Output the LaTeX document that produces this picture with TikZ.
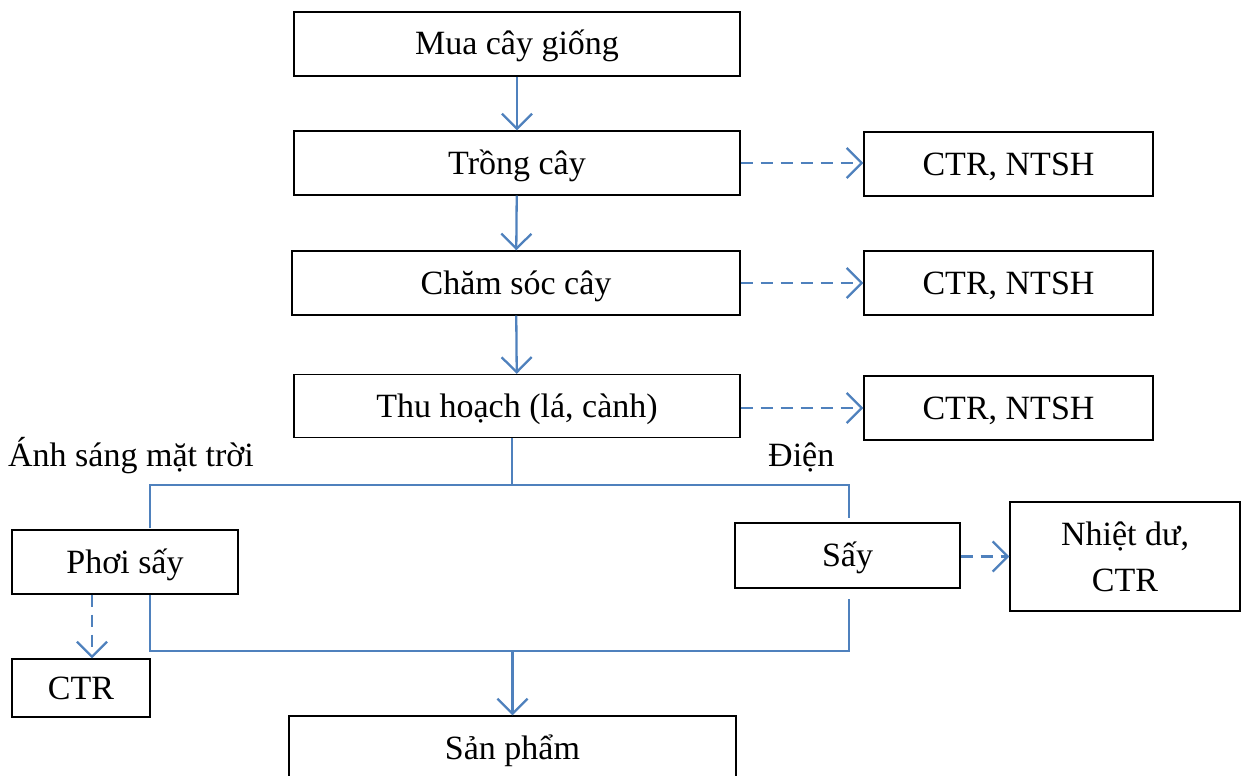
\documentclass[tikz,border=0pt]{standalone}
\usepackage{fontspec}
\setmainfont{Liberation Serif}
\usepackage{tikz}
\usetikzlibrary{arrows.meta,positioning,calc}

\definecolor{flowblue}{HTML}{4F81BD}

\tikzset{
  oneline/.style={text height=26pt,text depth=4pt},
  stepbox/.style={draw=black,line width=1.4pt,minimum width=446pt,minimum height=64pt,inner sep=0pt,oneline},
  sidebox/.style={draw=black,line width=1.4pt,minimum height=64pt,inner sep=0pt,align=center},
  flow/.style={draw=flowblue,line width=2.3pt},
  flowarr/.style={flow,-{Straight Barb[length=15pt,width=30pt,line width=2.3pt]}},
  wastearr/.style={flowarr,dash pattern=on 12pt off 8pt}
}

\begin{document}
\begin{tikzpicture}[x=1pt,y=-1pt,font=\fontsize{34}{40}\selectfont]
  \useasboundingbox (0,0) rectangle (1248,776);
  % main chain
  \node[stepbox] (mua) at (517,44) {Mua cây giống};
  \node[stepbox] (trong) at (517,163) {Trồng cây};
  \node[stepbox,minimum width=448pt] (cham) at (516,283) {Chăm sóc cây};
  \node[stepbox,minimum height=63pt] (thu) at (517,406) {Thu hoạch (lá, cành)};
  \node[stepbox,minimum width=447pt] (sanpham) at (512.5,748) {Sản phẩm};
  % waste boxes
  \node[sidebox,oneline,minimum width=289pt] (ctra) at (1008.5,164) {CTR, NTSH};
  \node[sidebox,oneline,minimum width=289pt] (ctrb) at (1008.5,283) {CTR, NTSH};
  \node[sidebox,oneline,minimum width=289pt] (ctrc) at (1008.5,408) {CTR, NTSH};
  \node[sidebox,oneline,minimum width=226pt] (phoi) at (125,562) {Phơi sấy};
  \node[sidebox,oneline,minimum width=225pt,minimum height=65pt] (say) at (847.5,555.5) {Sấy};
  \node[sidebox,minimum width=230pt,minimum height=109pt] (nhiet) at (1125,556.5) {Nhiệt dư,\\[6pt]CTR};
  \node[sidebox,oneline,minimum width=138pt,minimum height=58pt] (ctrd) at (81,688) {CTR};
  % inputs
  \node[anchor=base west,inner sep=0pt] (nang) at (8,466) {Ánh sáng mặt trời};
  \node[anchor=base west,inner sep=0pt] (dien) at (768,466) {Điện};

  \coordinate (split) at (512,485);
  \coordinate (jl) at (150,485);
  \coordinate (jr) at (849,485);
  \coordinate (ml) at (150,651);
  \coordinate (mr) at (849,651);
  \coordinate (dl) at (92,0);

  \draw[flowarr] (mua) -- (trong);
  \draw[flowarr] (trong) -- (cham);
  \draw[flowarr] (cham) -- (thu);
  \draw[flow] (thu.south -| split) -- (split);
  \draw[flow] ($(jl |- phoi.north)+(0,-1)$) -- (jl) -- (jr) -- ($(jr |- say.north)+(0,-4)$);
  \draw[flow] (ml |- phoi.south) -- (ml) -- (mr) -- ($(mr |- say.south)+(0,10)$);
  \draw[flowarr] (sanpham.north |- ml) -- (sanpham.north);

  \draw[wastearr] (trong.east) -- (ctra.west |- trong.east);
  \draw[wastearr] (cham.east) -- (ctrb.west |- cham.east);
  \draw[wastearr] (thu.east |- ctrc.west) -- (ctrc.west);
  \draw[wastearr] (say.east |- nhiet.west) -- (nhiet.west);
  \draw[wastearr] (dl |- phoi.south) -- (dl |- ctrd.north);
\end{tikzpicture}
\end{document}
